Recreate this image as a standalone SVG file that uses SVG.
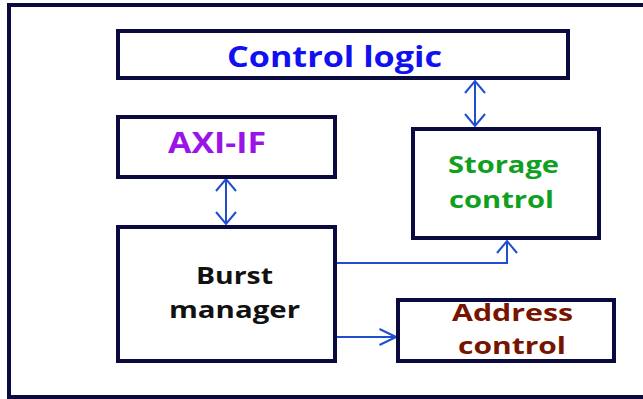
<svg xmlns="http://www.w3.org/2000/svg" width="643" height="399" viewBox="0 0 643 399">
  <style>
    .frame { fill: none; stroke: #0a0a40; stroke-width: 4; }
    .box { fill: #ffffff; stroke: #0a0a40; stroke-width: 4; }
    .lbl { font-family: "Open Sans", "Liberation Sans", sans-serif; font-weight: bold; }
    .link { fill: none; stroke: #1f4fd0; stroke-width: 2; }
  </style>
  <defs>
    <marker id="head-v" markerUnits="userSpaceOnUse" viewBox="-14 -11 16 22" refX="0" refY="0" markerWidth="16" markerHeight="22" orient="auto-start-reverse">
      <path d="M-12,-10 L0,0 L-12,10" fill="none" stroke="#1f4fd0" stroke-width="2"/>
    </marker>
    <marker id="head-h" markerUnits="userSpaceOnUse" viewBox="-18 -10 20 20" refX="0" refY="0" markerWidth="20" markerHeight="20" orient="auto">
      <path d="M-16.5,-8 L0,0 L-16.5,8" fill="none" stroke="#1f4fd0" stroke-width="2"/>
    </marker>
  </defs>

  <rect width="643" height="399" fill="#ffffff"/>
  <!-- enclosing frame (runs off the right edge) -->
  <rect class="frame" x="9" y="5" width="650" height="392"/>

  <g id="connectors">
    <line class="link" x1="475" y1="81" x2="475" y2="126" marker-start="url(#head-v)" marker-end="url(#head-v)"/>
    <line class="link" x1="226" y1="179" x2="226" y2="224" marker-start="url(#head-v)" marker-end="url(#head-v)"/>
    <polyline class="link" points="336,263 507,263 507,241" marker-end="url(#head-v)"/>
    <line class="link" x1="336" y1="337" x2="396" y2="337" marker-end="url(#head-h)"/>
  </g>

  <g id="control-logic">
    <rect class="box" x="118" y="31" width="450" height="47"/>
    <text class="lbl" x="227" y="67" font-size="28" fill="#1010f0" textLength="215" lengthAdjust="spacingAndGlyphs">Control logic</text>
  </g>

  <g id="axi-if">
    <rect class="box" x="118" y="117" width="217" height="60"/>
    <text class="lbl" x="168" y="153" font-size="28" fill="#9a14e8" textLength="98" lengthAdjust="spacingAndGlyphs">AXI-IF</text>
  </g>

  <g id="storage-control">
    <rect class="box" x="413" y="129" width="186" height="109"/>
    <text class="lbl" x="448" y="173" font-size="23" fill="#10a020" textLength="111" lengthAdjust="spacingAndGlyphs">Storage</text>
    <text class="lbl" x="449" y="208" font-size="23" fill="#10a020" textLength="105" lengthAdjust="spacingAndGlyphs">control</text>
  </g>

  <g id="burst-manager">
    <rect class="box" x="118" y="227" width="217" height="134"/>
    <text class="lbl" x="196" y="284" font-size="23" fill="#111111" textLength="77" lengthAdjust="spacingAndGlyphs">Burst</text>
    <text class="lbl" x="169" y="318" font-size="23" fill="#111111" textLength="131" lengthAdjust="spacingAndGlyphs">manager</text>
  </g>

  <g id="address-control">
    <rect class="box" x="398" y="300" width="216" height="61"/>
    <text class="lbl" x="452" y="321" font-size="24" fill="#761400" textLength="121" lengthAdjust="spacingAndGlyphs">Address</text>
    <text class="lbl" x="458" y="354" font-size="24" fill="#761400" textLength="108" lengthAdjust="spacingAndGlyphs">control</text>
  </g>
</svg>
